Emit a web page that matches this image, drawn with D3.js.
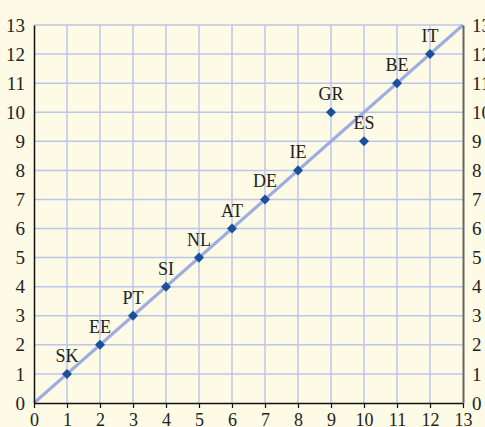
<!DOCTYPE html>
<html><head><meta charset="utf-8">
<script src="https://cdn.jsdelivr.net/npm/d3@7"></script>
<style>
html,body{margin:0;padding:0;background:#fdfae6;overflow:hidden;}
svg{display:block;}
</style></head>
<body>
<svg id="c" width="485" height="427"></svg>
<script>
const countries = ["SK","EE","PT","SI","NL","AT","DE","IE","GR","ES","BE","IT"];
const xValues   = [1,2,3,4,5,6,7,8,9,10,11,12];
const yValues   = [1,2,3,4,5,6,7,8,10,9,11,12];
const ticks     = [0,1,2,3,4,5,6,7,8,9,10,11,12,13];

const svg = d3.select("#c");
const W = 485, H = 427;
svg.append("rect").attr("width",W).attr("height",H).attr("fill","#fdfae6");

const x = d3.scaleLinear().domain([0,13]).range([34,463]);
const y = d3.scaleLinear().domain([0,13]).range([403,25]);
const font = "'Liberation Serif','Times New Roman',serif";
const grid = "#bcc6ea";

// grid
svg.append("g").selectAll("line").data(ticks.filter(t=>t>0&&t<13)).join("line")
  .attr("x1",d=>x(d)).attr("x2",d=>x(d)).attr("y1",y(13)).attr("y2",y(0))
  .attr("stroke",grid).attr("stroke-width",1.5);
svg.append("g").selectAll("line").data(ticks.filter(t=>t>0)).join("line")
  .attr("x1",x(0)).attr("x2",x(13)).attr("y1",d=>y(d)).attr("y2",d=>y(d))
  .attr("stroke",grid).attr("stroke-width",1.5);

// diagonal
svg.append("line").attr("x1",x(0)).attr("y1",y(0)).attr("x2",x(13)).attr("y2",y(13))
  .attr("stroke","#9eace2").attr("stroke-width",3);

// axes
const bottom = svg.append("g").attr("transform",`translate(0,${y(0)})`)
  .call(d3.axisBottom(x).tickValues(ticks).tickSize(5).tickSizeOuter(0));
bottom.select(".domain").attr("stroke","#111").attr("stroke-width",1.5);
bottom.selectAll(".tick line").attr("stroke","#111").attr("stroke-width",1.2);
bottom.selectAll(".tick text").attr("font-family",font).attr("font-size",18).attr("fill","#222")
  .attr("y",0).attr("dy",0).attr("transform","translate(0,23)");

const left = svg.append("g").attr("transform",`translate(${x(0)},0)`)
  .call(d3.axisLeft(y).tickValues(ticks).tickSize(0).tickPadding(9));
left.select(".domain").attr("stroke","#111").attr("stroke-width",1.5);
left.selectAll(".tick text").attr("font-family",font).attr("font-size",19).attr("fill","#222");

const right = svg.append("g").attr("transform",`translate(${x(13)},0)`)
  .call(d3.axisRight(y).tickValues(ticks).tickSize(0).tickPadding(9));
right.select(".domain").attr("stroke","#666").attr("stroke-width",2);
right.selectAll(".tick text").attr("font-family",font).attr("font-size",19).attr("fill","#222");

// points
const data = countries.map((c,i)=>({c, xv:xValues[i], yv:yValues[i]}));
svg.append("g").selectAll("path").data(data).join("path")
  .attr("d", d3.symbol(d3.symbolDiamond2, 64))
  .attr("transform",d=>`translate(${x(d.xv)},${y(d.yv)})`)
  .attr("fill","#1a4f9c");
svg.append("g").selectAll("text").data(data).join("text")
  .attr("x",d=>x(d.xv)).attr("y",d=>y(d.yv)-12)
  .attr("text-anchor","middle").attr("font-family",font).attr("font-size",18).attr("fill","#222")
  .text(d=>d.c);
</script>
</body></html>
